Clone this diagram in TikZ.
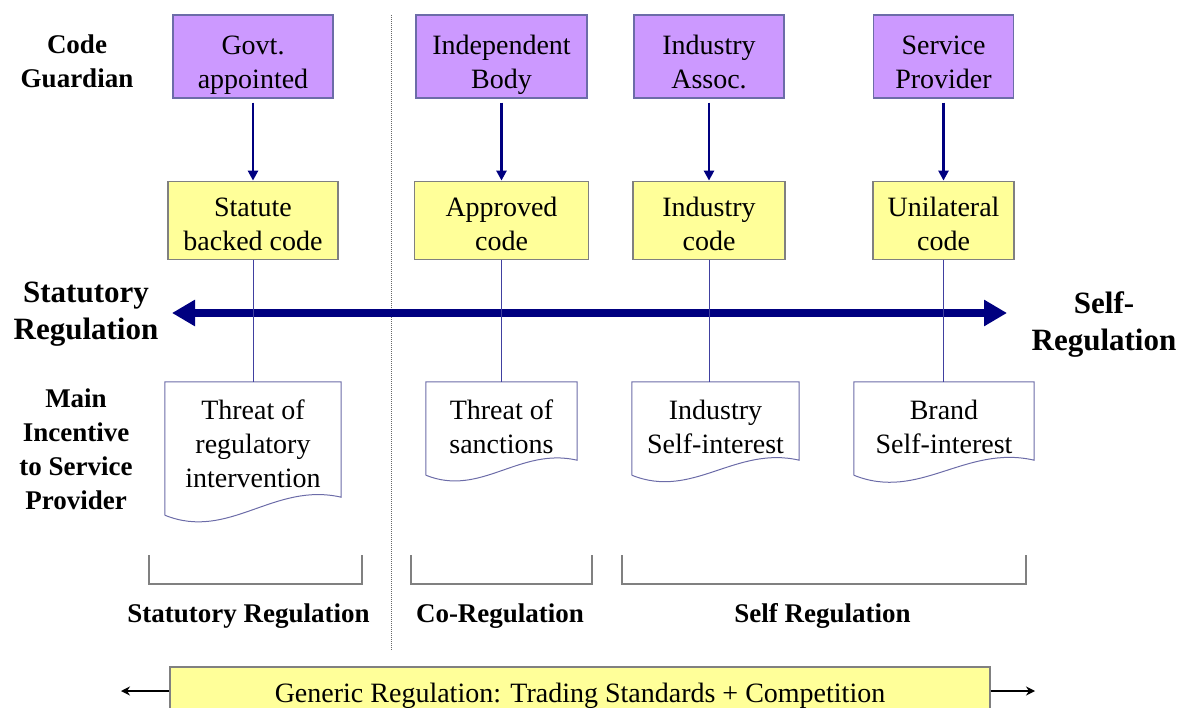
\documentclass[tikz,border=0pt]{standalone}
\usepackage{fontspec}
\setmainfont{Liberation Serif}
\usetikzlibrary{arrows,arrows.meta,shapes,positioning}

\definecolor{guardfill}{HTML}{CC99FF}
\definecolor{codefill}{HTML}{FFFF99}
\definecolor{navyline}{HTML}{000080}
\definecolor{boxline}{HTML}{6C6CA8}

% outline of a document box with a wavy lower edge
\newcommand{\docpath}[2]{\draw[docline] ([yshift=-#2]#1.south west) -- (#1.north west) -- (#1.north east) -- (#1.south east) to[out=167,in=-22] ([yshift=-#2]#1.south west);}

\begin{document}
\begin{tikzpicture}[x=1pt,y=-1pt,
            every node/.style={align=center, font=\fontsize{28}{34}\selectfont},
            guard/.style={draw=boxline, line width=1.2pt, fill=guardfill, minimum height=83pt, inner sep=0pt, execute at begin node={\rule[-6.1pt]{0pt}{75.4pt}}},
            basebox/.style={draw=gray, line width=1.2pt, fill=codefill, inner sep=0pt},
            codebox/.style={basebox, minimum height=78pt, execute at begin node={\rule{0pt}{61.3pt}}},
            incentive/.style={inner sep=0pt, execute at begin node={\rule{0pt}{#1}}},
            incentive/.default=65.3pt,
            side/.style={font=\bfseries\fontsize{27}{34}\selectfont},
            pole/.style={font=\bfseries\fontsize{31}{37}\selectfont},
            feed/.style={-{Triangle[length=10pt,width=10pt]}, navyline, line width=2.5pt, shorten <=4pt},
            link/.style={navyline!75, line width=1pt},
            spectrum/.style={{Triangle[length=23pt,width=25pt]}-{Triangle[length=23pt,width=25pt]}, navyline, line width=8pt},
            docline/.style={boxline, line width=1pt},
            bracket/.style={gray, line width=1.2pt},
            outer/.style={-{Stealth[length=9pt,width=9pt]}, black, line width=1.4pt},
            node distance=82pt
  ]
  \useasboundingbox (0,0) rectangle (1180,708);

  \draw[black!60, densely dotted, line width=1pt] (391,15) -- (391,650);

  \node[side] (guardian) at (77,61) {Code\\Guardian};
  \node[pole] (statlab) at (86,314) {Statutory\\Regulation};
  \node[pole] (selflab) at (1104,325) {Self-\\Regulation};
  \node[side] (incentlab) at (76,449) {Main\\Incentive\\to Service\\Provider};

  \node[guard, minimum width=160pt] (govt) at (253,56.5) {Govt.\\appointed};
  \node[guard, minimum width=171pt] (indep) at (501.5,56.5) {Independent\\Body};
  \node[guard, minimum width=150pt] (assoc) at (709,56.5) {Industry\\Assoc.};
  \node[guard, minimum width=140pt] (prov) at (943.5,56.5) {Service\\Provider};

  \node[codebox, minimum width=170pt] (statute) [below=of govt] {Statute\\backed code};
  \node[codebox, minimum width=174pt] (approved) [below=of indep] {Approved\\code};
  \node[codebox, minimum width=152pt] (indcode) [below=of assoc] {Industry\\code};
  \node[codebox, minimum width=141pt] (unilat) [below=of prov] {Unilateral\\code};

  \node[incentive=95.3pt, minimum width=176pt, minimum height=115pt] (threat) at (253,439.5) {Threat of\\regulatory\\intervention};
  \node[incentive, minimum width=151pt, minimum height=78pt] (sanct) at (501.5,421) {Threat of\\sanctions};
  \node[incentive, minimum width=167pt, minimum height=78pt] (indself) at (715.5,421) {Industry\\Self-interest};
  \node[incentive, minimum width=180pt, minimum height=78pt] (brand) at (944,421) {Brand\\Self-interest};
  \docpath{threat}{18pt}
  \docpath{sanct}{15pt}
  \docpath{indself}{15pt}
  \docpath{brand}{15pt}

  \draw[feed] (govt) -- (statute);
  \draw[feed] (indep) -- (approved);
  \draw[feed] (assoc) -- (indcode);
  \draw[feed] (prov) -- (unilat);

  \coordinate (statend) at (172,313);
  \coordinate (selfend) at (1007,313);
  \draw[spectrum] (statend) -- (selfend);

  \draw[link] (statute.south) -- (statute.south |- threat.north);
  \draw[link] (approved.south) -- (approved.south |- sanct.north);
  \draw[link] (indcode.south) -- (indcode.south |- indself.north);
  \draw[link] (unilat.south) -- (unilat.south |- brand.north);

  \foreach \a/\b in {149/362, 411/592, 622/1026}
    \draw[bracket] (\a,555) |- (\b,584) -- (\b,555);

  \node[side] (statreg) at (248.5,616) {Statutory Regulation};
  \node[side] (coreg) at (500,616) {Co-Regulation};
  \node[side] (selfreg) at (822.5,616) {Self Regulation};

  \node[basebox, minimum width=820pt, minimum height=58pt] (generic) at (580,696) {Generic Regulation: Trading Standards + Competition};
  \coordinate (genleft) at (121,691);
  \coordinate (genright) at (1035,691);
  \draw[outer] (generic.west |- genleft) -- (genleft);
  \draw[outer] (generic.east |- genright) -- (genright);

\end{tikzpicture}
\end{document}
